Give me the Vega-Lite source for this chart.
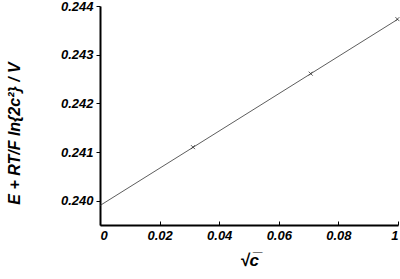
{
  "$schema": "https://vega.github.io/schema/vega-lite/v6.json",
  "autosize": "none",
  "width": 298,
  "height": 219,
  "padding": {"left": 100, "top": 6, "right": 2, "bottom": 54},
  "background": "white",
  "config": {
    "view": {"stroke": null},
    "axis": {
      "labelFont": "Liberation Sans",
      "labelFontWeight": "bold",
      "labelFontStyle": "italic",
      "labelFontSize": 13,
      "labelColor": "black",
      "titleFont": "Liberation Sans",
      "titleFontWeight": "bold",
      "titleFontStyle": "italic",
      "titleColor": "black",
      "domainColor": "black",
      "domainWidth": 2,
      "tickColor": "black",
      "tickWidth": 1,
      "grid": false
    }
  },
  "datasets": {
    "pts": [
      {"x": 0.0312, "y": 0.24110},
      {"x": 0.0707, "y": 0.24261},
      {"x": 0.0998, "y": 0.24373}
    ],
    "fit": [
      {"x": 0.0, "y": 0.23990},
      {"x": 0.1, "y": 0.24373}
    ]
  },
  "layer": [
    {
      "data": {"name": "fit"},
      "mark": {"type": "line", "color": "#333333", "strokeWidth": 0.8, "clip": true},
      "encoding": {
        "x": {
          "field": "x", "type": "quantitative",
          "scale": {"domain": [0, 0.1], "nice": false},
          "axis": {
            "values": [0, 0.02, 0.04, 0.06, 0.08, 0.1],
            "labelExpr": "datum.value >= 0.099 ? '1' : (datum.value == 0 ? '0' : format(datum.value, '.2f'))",
            "labelBound": false,
            "tickSize": -4,
            "labelPadding": 8,
            "title": "√c̅",
            "titleFontSize": 17,
            "titlePadding": 10
          }
        },
        "y": {
          "field": "y", "type": "quantitative",
          "scale": {"domain": [0.2395, 0.244], "nice": false, "zero": false},
          "axis": {
            "values": [0.24, 0.241, 0.242, 0.243, 0.244],
            "format": ".3f",
            "labelOverlap": false,
            "tickSize": 4,
            "labelPadding": 3,
            "title": "E + RT/F  ln{2c²}   /  V",
            "titleFontSize": 16,
            "titleX": -78,
            "titleY": 127
          }
        }
      }
    },
    {
      "data": {"name": "pts"},
      "mark": {"type": "point", "shape": "M-1,-1L1,1M-1,1L1,-1", "filled": false, "color": "#333333", "strokeWidth": 0.8, "size": 16, "opacity": 1},
      "encoding": {
        "x": {"field": "x", "type": "quantitative"},
        "y": {"field": "y", "type": "quantitative"}
      }
    }
  ]
}
